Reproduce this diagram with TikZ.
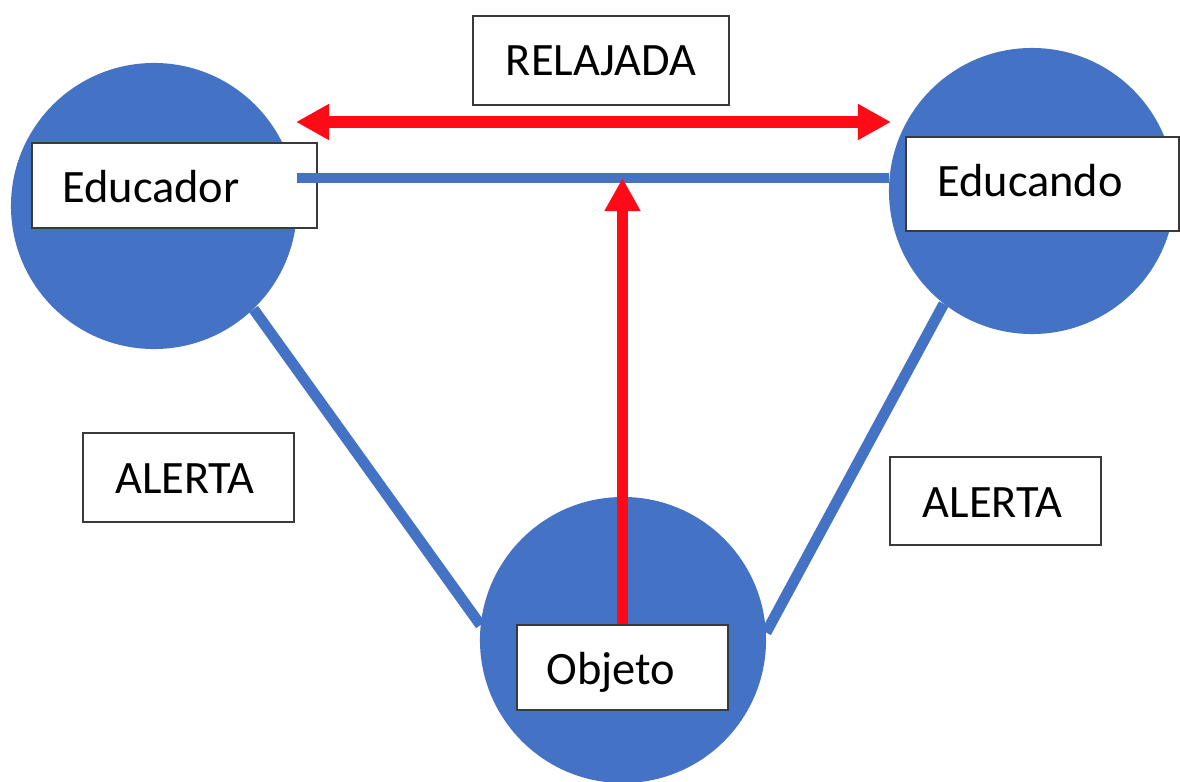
\documentclass[tikz,border=0pt]{standalone}
\usepackage{fontspec}
\setmainfont{Carlito}
\usetikzlibrary{arrows.meta,backgrounds}
\definecolor{officeblue}{HTML}{4472C4}
\definecolor{arrowred}{HTML}{FF0A16}
\definecolor{boxline}{HTML}{3A3A3A}
\tikzset{
  actor/.style={circle, fill=officeblue, draw=none, minimum size=7.15cm, inner sep=0pt},
  link/.style={draw=officeblue, line width=0.27cm},
  flow/.style={draw=arrowred, line width=0.27cm,
    -{Triangle[length=0.83cm,width=0.85cm]}},
  flowboth/.style={draw=arrowred, line width=0.28cm,
    {Triangle[length=0.83cm,width=0.85cm]}-{Triangle[length=0.83cm,width=0.85cm]}},
  labelbox/.style={rectangle, draw=boxline, fill=white, line width=1pt, inner sep=0pt},
  word/.style={anchor=base, inner sep=0pt, font=\fontsize{33}{40}\selectfont}
}
\begin{document}
\begin{tikzpicture}[x=0.025cm, y=-0.025cm]
  \useasboundingbox (0,0) rectangle (1180,782);
  \clip (0,0) rectangle (1180,782);

  % the three participants
  \node[actor] (educador) at (154,206) {};
  \node[actor] (educando) at (1032,191) {};
  \node[actor] (objeto) at (623,640) {};

  % lines from the object up to both subjects, behind the circles
  \begin{scope}[on background layer]
    \draw[link] (educador.-46) -- (objeto.174);
    \draw[link] (educando.-128) -- (objeto.3);
  \end{scope}

  % label boxes
  \node[labelbox, minimum width=7.125cm, minimum height=2.125cm] (boxEdr) at (174.5,185.5) {};
  \node[labelbox, minimum width=6.825cm, minimum height=2.35cm] (boxEdn) at (1042.5,184) {};
  \node[labelbox, minimum width=5.275cm, minimum height=2.125cm] (boxObj) at (622.5,667.5) {};
  \node[labelbox, minimum width=6.4cm, minimum height=2.225cm] (boxRel) at (601,60.5) {};
  \node[labelbox, minimum width=5.275cm, minimum height=2.225cm] (boxAL) at (188.5,477.5) {};
  \node[labelbox, minimum width=5.275cm, minimum height=2.2cm] (boxAR) at (995.5,501) {};

  % horizontal link between educator and learner
  \coordinate (hl) at (297,178);
  \draw[link] (hl) -- (hl -| educando.west);

  % relaxed two-way relation
  \coordinate (rl) at (296,122);
  \coordinate (rr) at (891,122);
  \draw[flowboth] (rl) -- (rr);

  % arrow from the object up to the link
  \draw[flow] (boxObj.north) -- (boxObj.north |- hl);

  % texts
  \node[word] (tEdr) at (151,203) {Educador};
  \node[word] (tEdn) at (1030,197) {Educando};
  \node[word] (tObj) at (611,684) {Objeto};
  \node[word] (tRel) at (601,76) {RELAJADA};
  \node[word] (tAL) at (185,493) {ALERTA};
  \node[word] (tAR) at (992.5,517) {ALERTA};
\end{tikzpicture}
\end{document}
